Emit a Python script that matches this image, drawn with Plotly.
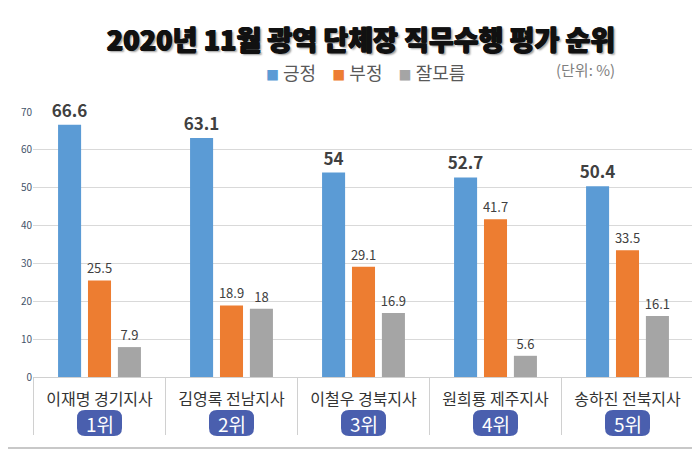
import plotly.graph_objects as go

# data
regions = ["이재명 경기지사", "김영록 전남지사", "이철우 경북지사", "원희룡 제주지사", "송하진 전북지사"]
ranks = ["1위", "2위", "3위", "4위", "5위"]
positive = [66.6, 63.1, 54, 52.7, 50.4]
negative = [25.5, 18.9, 29.1, 41.7, 33.5]
unknown = [7.9, 18, 16.9, 5.6, 16.1]
series_names = ["긍정", "부정", "잘모름"]
y_ticks = [0, 10, 20, 30, 40, 50, 60, 70]

colors = ["#5b9bd5", "#ed7d31", "#a5a5a5"]
FONT = "Noto Sans CJK KR"

# the page body adds an 8px offset, so the figure is 692x442
W, H = 692, 442
L, R, T, B = 25, 6, 104, 73
PW = W - L - R
PH = H - T - B


def px(x):
    # figure pixel -> paper x
    return (x - L) / PW


def py(y):
    # figure pixel -> paper y
    return (H - B - y) / PH


fig = go.Figure()

for k, vals in enumerate([positive, negative, unknown]):
    big = k == 0
    fig.add_trace(go.Bar(
        x=regions,
        y=vals,
        name=series_names[k],
        marker=dict(color=colors[k], line=dict(width=0)),
        text=[f"{v:g}" for v in vals],
        textposition="outside",
        constraintext="none",
        cliponaxis=False,
        textfont=dict(family=FONT, size=17 if big else 13,
                      color="#404040", weight="bold" if big else "normal"),
        showlegend=False,
    ))

shapes = []
annotations = []

# outer frame (right and bottom edges are inside the window)
shapes.append(dict(type="line", xref="paper", yref="paper",
                   x0=px(690), x1=px(690), y0=py(0), y1=py(440),
                   line=dict(color="#c8c8c8", width=2)))
shapes.append(dict(type="line", xref="paper", yref="paper",
                   x0=px(0), x1=px(690), y0=py(440), y1=py(440),
                   line=dict(color="#c8c8c8", width=2)))

# table dividers under the axis
for i in range(len(regions) + 1):
    shapes.append(dict(
        type="line", xref="x", yref="paper",
        x0=i - 0.5, x1=i - 0.5, y0=0, y1=-58 / PH,
        line=dict(color="#d0d0d0", width=1),
    ))


def rounded_rect(x0, y0, x1, y1, r):
    return (f"M{x0 + r},{y0} L{x1 - r},{y0} Q{x1},{y0} {x1},{y0 + r} "
            f"L{x1},{y1 - r} Q{x1},{y1} {x1 - r},{y1} L{x0 + r},{y1} "
            f"Q{x0},{y1} {x0},{y1 - r} L{x0},{y0 + r} Q{x0},{y0} {x0 + r},{y0} Z")


# rank badges
for i, rank in enumerate(ranks):
    shapes.append(dict(
        type="path", xref="x", yref="paper",
        xsizemode="pixel", ysizemode="pixel", xanchor=i, yanchor=0,
        path=rounded_rect(-22.5, -59, 22.5, -33, 8),
        fillcolor="#4a5fae", line=dict(width=0),
    ))
    annotations.append(dict(
        x=i, y=-46 / PH, xref="x", yref="paper",
        xanchor="center", yanchor="middle",
        text=rank, showarrow=False,
        font=dict(family=FONT, size=19, color="white"),
    ))

# legend row
legend_text = "    ".join(
    f"<span style='color:{c};font-size:13px'>■</span> {n}"
    for c, n in zip(colors, series_names)
)
annotations.append(dict(
    x=px(357), y=py(64), xref="paper", yref="paper",
    xanchor="center", yanchor="middle",
    text=legend_text, showarrow=False,
    font=dict(family=FONT, size=18, color="#595959"),
))

annotations.append(dict(
    x=px(577), y=py(61), xref="paper", yref="paper",
    xanchor="center", yanchor="middle",
    text="(단위: %)", showarrow=False,
    font=dict(family=FONT, size=15, color="#7f7f7f"),
))

fig.update_layout(
    width=W, height=H,
    margin=dict(l=L, r=R, t=T, b=B),
    paper_bgcolor="white", plot_bgcolor="white",
    barmode="group", bargap=0.32, bargroupgap=0.23,
    title=dict(
        text="2020년 11월 광역 단체장 직무수행 평가 순위",
        x=353 / W, xanchor="center", y=1 - 33 / H, yanchor="middle",
        font=dict(family=FONT, size=27, color="#111111", weight=900,
                  shadow="0.7px 0 0 #111, -0.7px 0 0 #111, 0 0.7px 0 #111, "
                         "2px 2px 2px #9a9a9a"),
    ),
    shapes=shapes,
    annotations=annotations,
    showlegend=False,
)

fig.update_xaxes(
    showline=True, linecolor="#d0d0d0", linewidth=1,
    showgrid=False, ticks="", ticklabelstandoff=8,
    tickfont=dict(family=FONT, size=16, color="#333333"),
)
fig.update_yaxes(
    range=[0, 70], tickvals=y_ticks,
    showgrid=True, gridcolor="#d9d9d9", gridwidth=1,
    zeroline=False, showline=False, ticks="",
    tickfont=dict(family=FONT, size=10, color="#44546a"),
)

fig.write_html("out.html")
